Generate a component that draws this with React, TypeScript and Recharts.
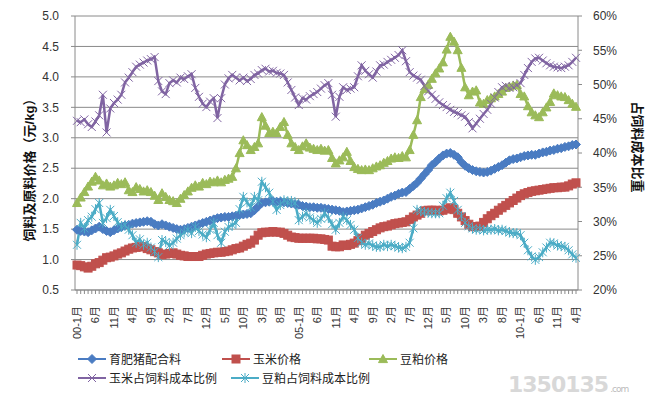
import { CartesianGrid, Line, LineChart, XAxis, YAxis } from "recharts";

const MONTHS = Array.from({ length: 136 }, (_, i) => `${2000 + Math.floor(i / 12)}-${(i % 12) + 1}`);

const TICK_LABELS = [
  "00-1月", "6月", "11月", "4月", "9月", "2月", "7月", "12月", "5月", "10月",
  "3月", "8月", "05-1月", "6月", "11月", "4月", "9月", "2月", "7月", "12月",
  "5月", "10月", "3月", "8月", "10-1月", "6月", "11月", "4月",
];

// 育肥猪配合料 (元/kg)
const FEED = [
  1.49, 1.47, 1.46, 1.45, 1.48, 1.51, 1.54, 1.5, 1.47, 1.45, 1.48, 1.51, 1.53, 1.56, 1.57, 1.59, 1.6, 1.61, 1.62, 1.63,
  1.62, 1.58, 1.56, 1.58, 1.56, 1.54, 1.52, 1.5, 1.49, 1.5, 1.52, 1.54, 1.56, 1.58, 1.6, 1.62, 1.64, 1.66, 1.68, 1.69,
  1.7, 1.7, 1.71, 1.72, 1.73, 1.74, 1.75, 1.76, 1.81, 1.87, 1.93, 1.94, 1.95, 1.96, 1.95, 1.95, 1.94, 1.93, 1.92, 1.91,
  1.9, 1.88, 1.87, 1.86, 1.86, 1.85, 1.85, 1.84, 1.83, 1.82, 1.81, 1.8, 1.78, 1.79, 1.8, 1.81, 1.82, 1.84, 1.86, 1.88,
  1.9, 1.93, 1.95, 1.97, 2.0, 2.03, 2.05, 2.08, 2.1, 2.11, 2.16, 2.21, 2.26, 2.33, 2.4, 2.47, 2.55, 2.6, 2.66, 2.71,
  2.74, 2.75, 2.72, 2.68, 2.6, 2.54, 2.5, 2.47, 2.45, 2.44, 2.43, 2.44, 2.46, 2.49, 2.52, 2.55, 2.59, 2.63, 2.65, 2.66,
  2.68, 2.7, 2.71, 2.72, 2.72, 2.74, 2.76, 2.77, 2.79, 2.8, 2.82, 2.83, 2.85, 2.86, 2.88, 2.89,
];

// 玉米价格 (元/kg)
const CORN = [
  0.91, 0.9, 0.88, 0.86, 0.89, 0.93, 0.95, 0.99, 1.03, 1.04, 1.06, 1.09, 1.11, 1.14, 1.17, 1.19, 1.2, 1.21, 1.21, 1.18,
  1.16, 1.13, 1.11, 1.08, 1.09, 1.1, 1.11, 1.09, 1.07, 1.06, 1.05, 1.05, 1.05, 1.05, 1.07, 1.09, 1.1, 1.11, 1.12, 1.12,
  1.13, 1.14, 1.16, 1.18, 1.19, 1.22, 1.25, 1.27, 1.32, 1.4, 1.44, 1.45, 1.45, 1.46, 1.45, 1.45, 1.43, 1.4, 1.37, 1.36,
  1.35, 1.35, 1.35, 1.35, 1.35, 1.34, 1.34, 1.33, 1.32, 1.22, 1.21, 1.21, 1.24, 1.23, 1.25, 1.27, 1.31, 1.35, 1.4, 1.43,
  1.46, 1.49, 1.52, 1.54, 1.55, 1.57, 1.59, 1.6, 1.61, 1.62, 1.66, 1.7, 1.73, 1.76, 1.8, 1.81, 1.81, 1.81, 1.8, 1.81,
  1.83, 1.85, 1.82, 1.76, 1.7, 1.64, 1.58, 1.54, 1.54, 1.55, 1.61, 1.67, 1.72, 1.76, 1.81, 1.85, 1.89, 1.93, 1.97, 2.01,
  2.05, 2.08, 2.1, 2.12, 2.13, 2.14, 2.15, 2.16, 2.17, 2.18, 2.18, 2.19, 2.19, 2.21, 2.24, 2.26,
];

// 豆粕价格 (元/kg)
const MEAL = [
  1.93, 2.02, 2.11, 2.2, 2.28, 2.36, 2.3, 2.22, 2.25, 2.2, 2.22, 2.26, 2.24, 2.27, 2.14, 2.11, 2.19, 2.16, 2.12, 2.14,
  2.11, 2.05, 1.98, 2.09, 2.03, 1.98, 1.96, 1.93, 2.0, 2.06, 2.12, 2.18, 2.22, 2.2, 2.26, 2.24, 2.28, 2.27, 2.3, 2.27,
  2.31, 2.33, 2.36, 2.5, 2.75, 2.96, 2.88, 2.8, 2.85, 2.91, 3.34, 3.2, 3.08, 3.1, 3.08, 3.18, 3.26, 3.05, 2.91, 2.85,
  2.8, 2.86, 2.91, 2.84, 2.82, 2.8, 2.82, 2.79, 2.8, 2.67, 2.58, 2.63, 2.68, 2.77, 2.62, 2.52, 2.49, 2.47, 2.48, 2.47,
  2.5, 2.53, 2.55, 2.59, 2.62, 2.66, 2.68, 2.67, 2.7, 2.68, 2.8, 3.05, 3.29, 3.67, 3.8, 3.87, 3.97, 4.06, 4.14, 4.24,
  4.45, 4.66, 4.58, 4.44, 4.15, 3.83, 3.7, 3.76, 3.78, 3.58, 3.56, 3.62, 3.65, 3.68, 3.72, 3.76, 3.82, 3.84, 3.86, 3.87,
  3.72, 3.68, 3.52, 3.42, 3.37, 3.34, 3.42, 3.5, 3.59, 3.73, 3.7, 3.68, 3.67, 3.62, 3.56, 3.51,
];

// 玉米占饲料成本比例 (%)
const CORN_SHARE = [
  44.7, 44.5, 44.9, 44.2, 43.8, 44.6, 45.5, 48.5, 43.0, 46.5, 47.3, 47.8, 48.5, 50.3, 51.0, 51.8, 52.6, 52.9, 53.2, 53.5,
  53.7, 54.0, 50.5, 49.0, 48.6, 50.2, 50.6, 50.3, 51.0, 50.8, 51.2, 51.5, 49.5, 48.2, 47.2, 46.7, 47.5, 48.0, 45.1, 48.0,
  50.0, 50.9, 51.4, 51.0, 50.6, 51.0, 50.5, 50.8, 51.4, 51.6, 52.1, 52.3, 51.9, 52.0, 51.7, 51.6, 51.4, 50.3, 49.2, 48.1,
  47.0, 48.0, 47.8, 48.3, 48.6, 48.9, 49.4, 49.9, 50.2, 48.5, 45.3, 48.2, 49.6, 49.2, 49.4, 49.6, 51.2, 52.8, 52.0, 51.5,
  51.0, 51.9, 52.8, 52.9, 53.3, 53.6, 53.9, 54.3, 55.0, 53.4, 51.8, 51.3, 51.0, 50.7, 49.8, 49.0, 48.5, 47.9, 47.4, 47.0,
  46.7, 46.3, 46.0, 45.8, 45.5, 45.3, 44.5, 43.6, 44.3, 45.0, 45.7, 46.3, 47.2, 48.1, 48.9, 49.6, 49.8, 49.5, 49.6, 49.9,
  50.2, 51.4, 52.4, 53.3, 53.8, 53.9, 53.5, 53.1, 52.8, 52.6, 52.5, 52.4, 52.6, 52.8, 53.3, 53.9,
];

// 豆粕占饲料成本比例 (%)
const MEAL_SHARE = [
  26.6, 29.8, 29.0, 30.2, 30.7, 31.8, 32.7, 29.8, 30.5, 31.7, 30.8, 29.9, 29.2, 29.5, 28.8, 28.0, 26.9, 27.4, 26.6, 26.9,
  26.2, 25.6, 24.8, 27.3, 27.0, 26.5, 26.9, 27.5, 28.0, 28.4, 28.8, 28.3, 29.2, 28.6, 28.1, 27.7, 28.8, 29.8, 28.0, 26.9,
  28.5, 29.2, 29.5, 29.8, 31.8, 33.6, 32.8, 32.1, 33.6, 33.1, 35.8, 35.0, 34.2, 32.9, 31.7, 32.4, 33.1, 32.8, 33.0, 32.7,
  30.2, 30.7, 31.2, 30.6, 30.2, 29.8, 30.4, 31.2, 30.5, 29.6, 28.8, 29.8, 30.7, 30.2, 29.5, 28.8, 27.6, 26.9, 26.6, 26.8,
  26.5, 26.3, 26.3, 26.6, 26.4, 26.6, 26.4, 26.2, 26.1, 26.3, 26.9, 29.0, 31.7, 31.5, 31.4, 31.3, 31.2, 31.2, 31.2, 32.3,
  33.4, 34.2, 33.0, 31.7, 30.8, 29.8, 29.3, 29.0, 28.8, 28.9, 28.7, 28.8, 28.8, 28.9, 28.7, 28.8, 28.6, 28.4, 28.3, 28.3,
  28.0, 26.9, 25.8, 24.9, 24.4, 24.8, 25.5, 26.2, 26.9, 26.8, 26.5, 26.4, 26.3, 25.8, 25.2, 24.7,
];

const LEFT_TICKS = [0.5, 1, 1.5, 2, 2.5, 3, 3.5, 4, 4.5, 5];
const RIGHT_TICKS = [20, 25, 30, 35, 40, 45, 50, 55, 60];

const BLUE = "#4A7CC2";
const RED = "#C0504D";
const GREEN = "#9BBB59";
const PURPLE = "#8064A2";
const CYAN = "#4BACC6";

const FONT = "'Liberation Sans', 'Noto Sans CJK SC', sans-serif";
const AXIS_GREY = "#8a8a8a";

const data = MONTHS.map((month, i) => ({
  month,
  feed: FEED[i],
  corn: CORN[i],
  meal: MEAL[i],
  cornShare: CORN_SHARE[i],
  mealShare: MEAL_SHARE[i],
}));

function Diamond({ cx, cy, color }: any) {
  const r = 4.5;
  return <path d={`M${cx},${cy - r}L${cx + r},${cy}L${cx},${cy + r}L${cx - r},${cy}Z`} fill={color} stroke={color} />;
}

function Square({ cx, cy, color }: any) {
  const r = 4;
  return <rect x={cx - r} y={cy - r} width={r * 2} height={r * 2} fill={color} stroke={color} />;
}

function Triangle({ cx, cy, color }: any) {
  const r = 4.5;
  return <path d={`M${cx},${cy - r}L${cx + r},${cy + r * 0.8}L${cx - r},${cy + r * 0.8}Z`} fill={color} stroke={color} />;
}

function Cross({ cx, cy, color }: any) {
  const r = 4;
  return (
    <path d={`M${cx - r},${cy - r}L${cx + r},${cy + r}M${cx - r},${cy + r}L${cx + r},${cy - r}`} stroke={color} strokeWidth={1} fill="none" />
  );
}

function Star({ cx, cy, color }: any) {
  const r = 4;
  return (
    <path
      d={`M${cx - r},${cy - r}L${cx + r},${cy + r}M${cx - r},${cy + r}L${cx + r},${cy - r}M${cx},${cy - r - 1}L${cx},${cy + r + 1}`}
      stroke={color}
      strokeWidth={1}
      fill="none"
    />
  );
}

const makeDot = (Shape: any, color: string) => (props: any) => {
  if (props.cx == null || props.cy == null) return <g key={props.index} />;
  return <Shape key={props.index} cx={props.cx} cy={props.cy} color={color} />;
};

function MonthTick({ x, y, payload }: any) {
  const i = MONTHS.indexOf(payload.value);
  if (i % 5 !== 0) return <g />;
  const label = TICK_LABELS[i / 5];
  return (
    <text
      x={x}
      y={y + 10}
      dy="0.35em"
      transform={`rotate(-90, ${x}, ${y + 10})`}
      textAnchor="end"
      fontSize={11}
      fontFamily={FONT}
      fill="#333"
    >
      {label}
    </text>
  );
}

function LegendItem({ x, y, label, color, Shape }: any) {
  return (
    <div style={{ position: "absolute", left: x, top: y, display: "flex", alignItems: "center", whiteSpace: "nowrap" }}>
      <svg width={28} height={12} style={{ marginRight: 3 }}>
        <line x1={0} y1={6} x2={28} y2={6} stroke={color} strokeWidth={2} />
        <Shape cx={14} cy={6} color={color} />
      </svg>
      <span style={{ fontSize: 12, color: "#222", fontFamily: FONT }}>{label}</span>
    </div>
  );
}

export default function App() {
  return (
    <div style={{ position: "absolute", left: 0, top: 0, width: 655, height: 397, background: "#fff", fontFamily: FONT }}>
      <LineChart width={655} height={397} data={data} margin={{ top: 16, right: 0, bottom: 60, left: 0 }}>
        <CartesianGrid yAxisId="left" vertical={false} stroke={AXIS_GREY} strokeWidth={1} />
        <XAxis
          dataKey="month"
          interval={0}
          height={47}
          padding={{ left: 2, right: 2 }}
          tick={<MonthTick />}
          tickSize={4}
          tickLine={{ stroke: AXIS_GREY }}
          axisLine={{ stroke: AXIS_GREY }}
        />
        <YAxis
          yAxisId="left"
          width={75}
          domain={[0.5, 5]}
          ticks={LEFT_TICKS}
          tickFormatter={(v: number) => v.toFixed(1)}
          tick={{ fontSize: 12, fill: "#333", fontFamily: FONT }}
          tickSize={4}
          tickMargin={12}
          tickLine={{ stroke: AXIS_GREY }}
          axisLine={{ stroke: AXIS_GREY }}
        />
        <YAxis
          yAxisId="right"
          orientation="right"
          width={77}
          domain={[20, 60]}
          ticks={RIGHT_TICKS}
          tickFormatter={(v: number) => `${v}%`}
          tick={{ fontSize: 12, fill: "#333", fontFamily: FONT, textAnchor: "start" }}
          tickSize={4}
          tickMargin={11}
          tickLine={{ stroke: AXIS_GREY }}
          axisLine={{ stroke: AXIS_GREY }}
        />
        <Line yAxisId="left" dataKey="feed" stroke={BLUE} strokeWidth={2.5} dot={makeDot(Diamond, BLUE)} isAnimationActive={false} />
        <Line yAxisId="left" dataKey="corn" stroke={RED} strokeWidth={2.5} dot={makeDot(Square, RED)} isAnimationActive={false} />
        <Line yAxisId="left" dataKey="meal" stroke={GREEN} strokeWidth={2.5} dot={makeDot(Triangle, GREEN)} isAnimationActive={false} />
        <Line yAxisId="right" dataKey="cornShare" stroke={PURPLE} strokeWidth={2.5} dot={makeDot(Cross, PURPLE)} isAnimationActive={false} />
        <Line yAxisId="right" dataKey="mealShare" stroke={CYAN} strokeWidth={2.5} dot={makeDot(Star, CYAN)} isAnimationActive={false} />
      </LineChart>

      <div
        style={{
          position: "absolute",
          left: 28,
          top: 167,
          transform: "translate(-50%, -50%) rotate(-90deg)",
          whiteSpace: "nowrap",
          fontSize: 13,
          fontWeight: "bold",
          color: "#111",
        }}
      >
        饲料及原料价格（元/kg）
      </div>
      <div
        style={{
          position: "absolute",
          left: 638,
          top: 147,
          transform: "translate(-50%, -50%) rotate(90deg)",
          whiteSpace: "nowrap",
          fontSize: 13,
          fontWeight: "bold",
          color: "#111",
        }}
      >
        占饲料成本比重
      </div>

      <LegendItem x={78} y={350} label="育肥猪配合料" color={BLUE} Shape={Diamond} />
      <LegendItem x={222} y={350} label="玉米价格" color={RED} Shape={Square} />
      <LegendItem x={369} y={350} label="豆粕价格" color={GREEN} Shape={Triangle} />
      <LegendItem x={78} y={369} label="玉米占饲料成本比例" color={PURPLE} Shape={Cross} />
      <LegendItem x={231} y={369} label="豆粕占饲料成本比例" color={CYAN} Shape={Star} />

      <div
        style={{
          position: "absolute",
          left: 508,
          top: 372,
          fontSize: 22,
          fontWeight: "bold",
          color: "#d8d8d8",
          letterSpacing: -1,
          fontFamily: "'DejaVu Sans', sans-serif",
        }}
      >
        1350135
        <span style={{ fontSize: 9, fontWeight: "normal", color: "#bbb", marginLeft: 2 }}>.com</span>
      </div>
    </div>
  );
}
